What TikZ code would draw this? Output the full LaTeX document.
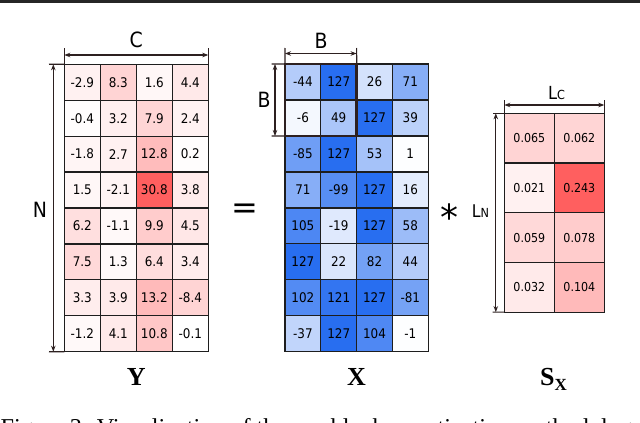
\documentclass[tikz,border=0pt]{standalone}
\usepackage{fontspec}
\setmainfont{Liberation Serif}
\newfontfamily\cellfont[FakeStretch=0.9]{DejaVu Sans}
\newfontfamily\symfont{DejaVu Sans}
\usetikzlibrary{arrows.meta}
\definecolor{redbase}{RGB}{255,95,95}
\definecolor{bluebase}{RGB}{40,110,240}
\definecolor{dimcol}{RGB}{45,32,32}
\definecolor{gridcol}{RGB}{30,30,30}
\tikzset{
  cellbox/.style={draw=gridcol, line width=1.2pt, minimum width=36pt, minimum height=36pt,
    inner sep=0pt, outer sep=0pt, font=\cellfont\fontsize{13.3}{15}\selectfont},
  scellbox/.style={cellbox, minimum width=50pt, minimum height=49.7pt,
    font=\cellfont\fontsize{12.3}{14}\selectfont},
  dimline/.style={draw=dimcol, line width=1.2pt},
  dimarrow/.style={draw=dimcol, line width=1.2pt, {Stealth[length=6pt,width=4.5pt]}-{Stealth[length=6pt,width=4.5pt]}},
  dimlabel/.style={font=\cellfont\fontsize{21}{21}\selectfont, inner sep=0pt},
  matlabel/.style={font=\bfseries\fontsize{26}{26}\selectfont, inner sep=0pt, anchor=base},
}
\begin{document}
\begin{tikzpicture}[x=1pt,y=-1pt]
\useasboundingbox (0,0) rectangle (640,423);
\fill[white] (0,0) rectangle (640,423);
% top rule
\draw[line width=3pt, black!85] (0,1.5) -- (640,1.5);

% ---------- Y ----------
\foreach \row [count=\r] in {{-2.9,8.3,1.6,4.4},{-0.4,3.2,7.9,2.4},{-1.8,2.7,12.8,0.2},{1.5,-2.1,30.8,3.8},{6.2,-1.1,9.9,4.5},{7.5,1.3,6.4,3.4},{3.3,3.9,13.2,-8.4},{-1.2,4.1,10.8,-0.1}}{
  \foreach \v [count=\c] in \row {
    \pgfmathtruncatemacro\f{round(abs(\v)/30.8*100)}
    \node[cellbox, fill=redbase!\f!white] (y-\r-\c) at ({64.3+(\c-0.5)*36},{64.3+(\r-0.5)*35.93}) {\v};
  }
}
% ---------- X ----------
\foreach \row [count=\r] in {{-44,127,26,71},{-6,49,127,39},{-85,127,53,1},{71,-99,127,16},{105,-19,127,58},{127,22,82,44},{102,121,127,-81},{-37,127,104,-1}}{
  \foreach \v [count=\c] in \row {
    \pgfmathtruncatemacro\f{round(abs(\v)/127*100)}
    \node[cellbox, fill=bluebase!\f!white] (x-\r-\c) at ({285+(\c-0.5)*35.8},{64+(\r-0.5)*35.98}) {\v};
  }
}
\draw[line width=2.8pt, draw=dimcol] (x-1-1.north west) rectangle (x-2-2.south east);
% ---------- S ----------
\foreach \row [count=\r] in {{0.065,0.062},{0.021,0.243},{0.059,0.078},{0.032,0.104}}{
  \foreach \v [count=\c] in \row {
    \pgfmathtruncatemacro\f{round(abs(\v)/0.243*100)}
    \node[scellbox, fill=redbase!\f!white] (s-\r-\c) at ({504.3+(\c-0.5)*50},{113.3+(\r-0.5)*49.7}) {\v};
  }
}

% ---------- dimensions Y ----------
\coordinate (c-tl) at (64.3,48);
\coordinate (c-tr) at (208.3,48);
\coordinate (c-al) at (64.3,55);
\coordinate (c-ar) at (208.3,55);
\draw[dimline] (y-1-1.north west) -- (c-tl);
\draw[dimline] (y-1-4.north east) -- (c-tr);
\draw[dimarrow] (c-al) -- (c-ar);
\node[dimlabel] (lab-c) at (136.3,40) {C};

\coordinate (n-tt) at (49,64.3);
\coordinate (n-bt) at (49,351.7);
\coordinate (n-at) at (53.3,64.3);
\coordinate (n-ab) at (53.3,351.7);
\draw[dimline] (y-1-1.north west) -- (n-tt);
\draw[dimline] (y-8-1.south west) -- (n-bt);
\draw[dimarrow] (n-at) -- (n-ab);
\node[dimlabel] (lab-n) at (40,210) {N};

% ---------- dimensions X ----------
\coordinate (b-tl) at (285,48);
\coordinate (b-tr) at (356.6,48);
\coordinate (b-al) at (285,53.5);
\coordinate (b-ar) at (356.6,53.5);
\draw[dimline] (x-1-1.north west) -- (b-tl);
\draw[dimline] (x-1-2.north east) -- (b-tr);
\draw[dimarrow] (b-al) -- (b-ar);
\node[dimlabel] (lab-b1) at (321,41) {B};

\coordinate (b-lt) at (271.5,64);
\coordinate (b-lb) at (271.5,136);
\coordinate (b-at) at (275,64);
\coordinate (b-ab) at (275,136);
\draw[dimline] (x-1-1.north west) -- (b-lt);
\draw[dimline] (x-2-1.south west) -- (b-lb);
\draw[dimarrow] (b-at) -- (b-ab);
\node[dimlabel] (lab-b2) at (264,100) {B};

% ---------- dimensions S ----------
\coordinate (lc-tl) at (504.3,99.5);
\coordinate (lc-tr) at (604.3,99.5);
\coordinate (lc-al) at (504.3,105);
\coordinate (lc-ar) at (604.3,105);
\draw[dimline] (s-1-1.north west) -- (lc-tl);
\draw[dimline] (s-1-2.north east) -- (lc-tr);
\draw[dimarrow] (lc-al) -- (lc-ar);
\node[inner sep=0pt, anchor=base] (lab-lc) at (556.5,99) {\cellfont\fontsize{18}{18}\selectfont L{\fontsize{12.5}{12.5}\selectfont C}};

\coordinate (ln-tt) at (492.5,113.3);
\coordinate (ln-bt) at (492.5,312.1);
\coordinate (ln-at) at (495.8,113.3);
\coordinate (ln-ab) at (495.8,312.1);
\draw[dimline] (s-1-1.north west) -- (ln-tt);
\draw[dimline] (s-4-1.south west) -- (ln-bt);
\draw[dimarrow] (ln-at) -- (ln-ab);
\node[inner sep=0pt, anchor=base] (lab-ln) at (480.5,217.5) {\cellfont\fontsize{17.5}{17.5}\selectfont L{\fontsize{12.5}{12.5}\selectfont N}};

% ---------- operators ----------
\node[inner sep=0pt, font=\symfont\fontsize{32}{32}\selectfont] (eq) at (244.5,211.5) {=};
\node[inner sep=0pt, anchor=base, font=\symfont\fontsize{36}{36}\selectfont] (ast) at (449,230.6) {*};

% ---------- matrix names ----------
\node[matlabel] (lab-y) at (136.3,385) {Y};
\node[matlabel] (lab-x) at (356.5,385) {X};
\node[matlabel, anchor=base west] (lab-s) at (540,385) {S\raisebox{-5pt}{\fontsize{17}{17}\selectfont X}};

% ---------- caption (cut off by the page edge) ----------
\begin{scope}
\clip (0,395) rectangle (640,423);
\node[anchor=base west, inner sep=0pt, font=\fontsize{24.2}{24.2}\selectfont] (caption) at (0.5,435.5) {Figure 3: Visualization of the per-block quantization methodology.};
\end{scope}
\end{tikzpicture}
\end{document}
